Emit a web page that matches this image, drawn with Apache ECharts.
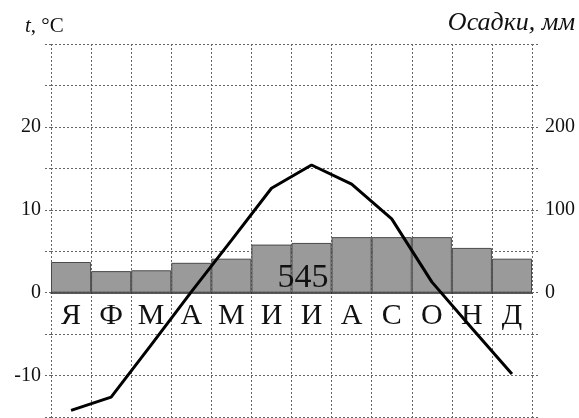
<!DOCTYPE html>
<html>
<head>
<meta charset="utf-8">
<script src="https://cdn.jsdelivr.net/npm/echarts@6/dist/echarts.min.js"></script>
<style>
  html, body { margin: 0; padding: 0; background: #fff; }
  #chart { width: 579px; height: 418px; }
</style>
</head>
<body>
<div id="chart"></div>
<script>
const months = ['Я', 'Ф', 'М', 'А', 'М', 'И', 'И', 'А', 'С', 'О', 'Н', 'Д'];
const temperature = [-14.2, -12.6, -6.3, 0.1, 6.3, 12.6, 15.4, 13.1, 8.9, 1.3, -4.3, -9.8];
const precipitation = [37, 26, 27, 36, 41, 58, 60, 67, 67, 67, 54, 41];
const tempTickLabels = [-10, 0, 10, 20];
const precTickLabels = [0, 100, 200];
const annualTotal = '545';

const SERIF = "'Liberation Serif', 'DejaVu Serif', 'Times New Roman', serif";
const gridLine = { color: '#666666', width: 1, type: [2, 2] };

const W = 579, H = 418;
const G = { left: 51, right: 47, top: 44, bottom: 1 };
const T_MIN = -15, T_MAX = 30;
const plotH = H - G.top - G.bottom;
// move the category axis up to the zero line of the temperature axis
const zeroOffset = -plotH * (0 - T_MIN) / (T_MAX - T_MIN);

const chart = echarts.init(document.getElementById('chart'));
chart.setOption({
  animation: false,
  backgroundColor: '#ffffff',
  grid: Object.assign({ containLabel: false, outerBoundsMode: 'none' }, G),
  xAxis: {
    type: 'category',
    data: months,
    boundaryGap: true,
    position: 'bottom',
    offset: zeroOffset,
    axisLine: { show: true, onZero: false, lineStyle: { color: '#222', width: 1.5 } },
    axisTick: { show: false },
    axisLabel: {
      interval: 0, margin: 8,
      fontFamily: SERIF, fontSize: 30, color: '#111'
    },
    splitLine: { show: true, interval: 0, lineStyle: gridLine }
  },
  yAxis: [
    {
      type: 'value', min: T_MIN, max: T_MAX, interval: 5,
      axisLine: { show: false },
      axisTick: { show: true, length: 6, lineStyle: gridLine },
      splitLine: { show: true, lineStyle: gridLine },
      axisLabel: {
        margin: 10, fontFamily: SERIF, fontSize: 20, color: '#111',
        formatter: v => tempTickLabels.includes(v) ? String(v) : ''
      }
    },
    {
      type: 'value', min: -150, max: 300, interval: 50,
      position: 'right',
      axisLine: { show: false },
      axisTick: { show: true, length: 6, lineStyle: gridLine },
      splitLine: { show: false },
      axisLabel: {
        margin: 13, fontFamily: SERIF, fontSize: 20, color: '#111',
        formatter: v => precTickLabels.includes(v) ? String(v) : ''
      }
    }
  ],
  series: [
    {
      type: 'bar',
      yAxisIndex: 1,
      data: precipitation,
      barCategoryGap: '0%',
      itemStyle: { color: '#9a9a9a', borderColor: '#4a4a4a', borderWidth: 1 },
      z: 1
    },
    {
      type: 'line',
      yAxisIndex: 0,
      data: temperature,
      symbol: 'none',
      lineStyle: { color: '#000', width: 3 },
      z: 5
    }
  ],
  graphic: [
    {
      type: 'text', left: 25, top: 16,
      style: {
        text: '{i|t}, °C',
        rich: { i: { fontFamily: SERIF, fontStyle: 'italic', fontSize: 21, fill: '#111' } },
        fontFamily: SERIF, fontSize: 21, fill: '#111'
      }
    },
    {
      type: 'text', right: 4, top: 10,
      style: { text: 'Осадки, мм', fontFamily: SERIF, fontStyle: 'italic', fontSize: 26, fill: '#111' }
    },
    {
      type: 'text', x: 303, y: 278, z: 10,
      style: {
        text: annualTotal, fontFamily: SERIF, fontSize: 34, fill: '#111',
        align: 'center', verticalAlign: 'middle'
      }
    }
  ]
});
</script>
</body>
</html>
